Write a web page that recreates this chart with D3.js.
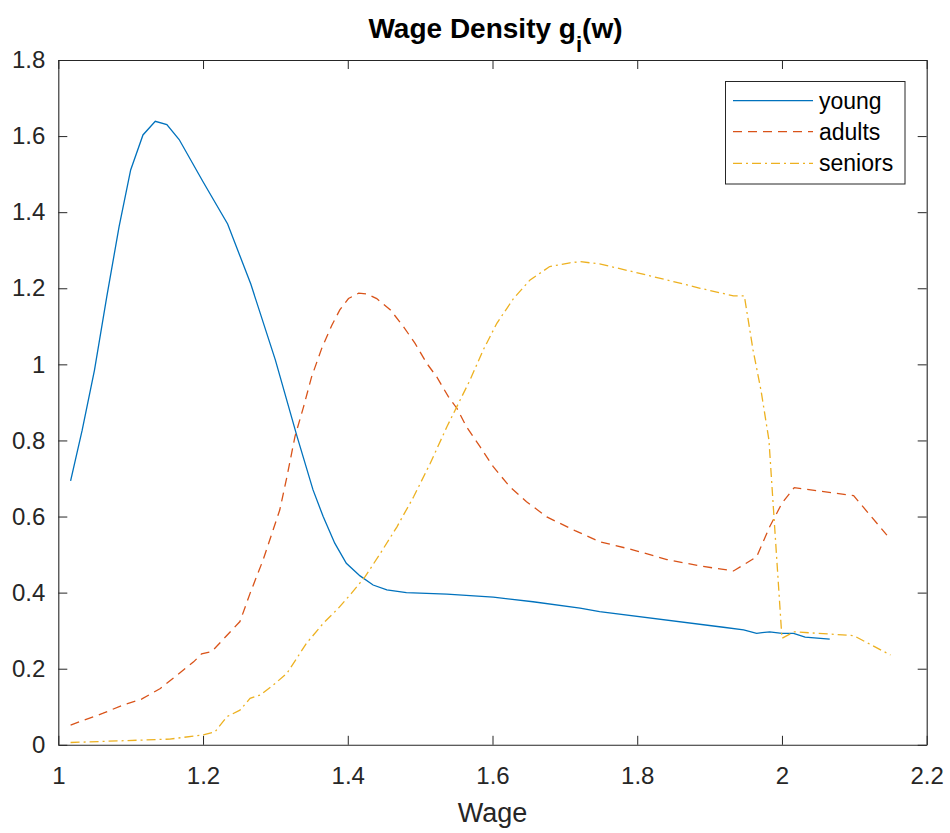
<!DOCTYPE html>
<html><head><meta charset="utf-8">
<script src="https://d3js.org/d3.v7.min.js"></script>
<style>body{margin:0;background:#fff}text{font-family:"Liberation Sans",Arial,Helvetica,sans-serif}</style>
</head><body><svg id="c" width="950" height="833"></svg>
<script>
// ---- data ----
const seriesNames = ["young", "adults", "seniors"];
const youngX = [1.017,1.033,1.050,1.067,1.084,1.100,1.117,1.134,1.150,1.167,1.200,1.234,1.266,1.300,1.330,1.352,1.366,1.382,1.398,1.417,1.435,1.454,1.481,1.537,1.601,1.656,1.721,1.748,1.919,1.947,1.965,1.983,2.000,2.016,2.032,2.066];
const youngY = [0.694,0.827,0.985,1.178,1.362,1.511,1.603,1.639,1.630,1.591,1.480,1.369,1.211,1.011,0.810,0.670,0.600,0.530,0.477,0.444,0.420,0.407,0.400,0.396,0.388,0.376,0.359,0.350,0.309,0.302,0.293,0.297,0.293,0.293,0.283,0.278];
const adultsX = [1.017,1.062,1.090,1.115,1.141,1.164,1.187,1.198,1.212,1.251,1.265,1.283,1.306,1.316,1.327,1.339,1.350,1.364,1.378,1.389,1.401,1.415,1.426,1.440,1.459,1.477,1.493,1.509,1.523,1.539,1.551,1.564,1.583,1.601,1.624,1.647,1.675,1.714,1.748,1.795,1.841,1.887,1.933,1.965,1.983,2.000,2.017,2.099,2.145];
const adultsY = [0.052,0.083,0.105,0.120,0.148,0.183,0.218,0.239,0.245,0.324,0.398,0.486,0.617,0.705,0.810,0.889,0.967,1.042,1.103,1.143,1.173,1.187,1.185,1.173,1.143,1.099,1.055,1.003,0.967,0.915,0.884,0.836,0.783,0.731,0.678,0.639,0.599,0.563,0.534,0.512,0.487,0.470,0.457,0.494,0.573,0.635,0.676,0.655,0.551];
const seniorsX = [1.017,1.094,1.154,1.200,1.2165,1.233,1.251,1.265,1.279,1.297,1.316,1.343,1.366,1.387,1.405,1.424,1.445,1.468,1.491,1.514,1.537,1.569,1.587,1.606,1.629,1.652,1.679,1.707,1.721,1.748,1.795,1.841,1.887,1.933,1.948,1.960,1.971,1.982,2.000,2.017,2.099,2.150];
const seniorsY = [0.006,0.011,0.015,0.026,0.034,0.074,0.091,0.122,0.131,0.157,0.188,0.267,0.319,0.359,0.398,0.442,0.503,0.573,0.652,0.740,0.836,0.959,1.037,1.108,1.173,1.222,1.257,1.267,1.270,1.264,1.243,1.222,1.200,1.180,1.180,1.038,0.932,0.801,0.280,0.297,0.287,0.236];
const xTicks = [1,1.2,1.4,1.6,1.8,2,2.2];
const xTickLabels = ["1","1.2","1.4","1.6","1.8","2","2.2"];
const yTicks = [0,0.2,0.4,0.6,0.8,1,1.2,1.4,1.6,1.8];
const yTickLabels = ["0","0.2","0.4","0.6","0.8","1","1.2","1.4","1.6","1.8"];

// ---- layout ----
const L = 58.3, R = 926.7, T = 60, B = 744.8;
const axisColor = "#262626";
const colors = ["#0072BD", "#D95319", "#EDB120"];
const dashes = [null, "9,6", "9,4,2,4"];

const svg = d3.select("#c");
const x = d3.scaleLinear().domain([1, 2.2]).range([L, R]);
const y = d3.scaleLinear().domain([0, 1.8]).range([B, T]);

// axes
const fmtX = d => xTickLabels[xTicks.indexOf(d)];
const fmtY = d => yTickLabels[yTicks.indexOf(d)];
const gx = svg.append("g").attr("transform", `translate(0,${B})`)
  .call(d3.axisBottom(x).tickValues(xTicks).tickFormat(fmtX).tickSizeInner(-9).tickSizeOuter(0).tickPadding(22));
const gy = svg.append("g").attr("transform", `translate(${L},0)`)
  .call(d3.axisLeft(y).tickValues(yTicks).tickFormat(fmtY).tickSizeInner(-9).tickSizeOuter(0).tickPadding(13));
const gxt = svg.append("g").attr("transform", `translate(0,${T})`)
  .call(d3.axisTop(x).tickValues(xTicks).tickFormat("").tickSizeInner(-9).tickSizeOuter(0));
const gyr = svg.append("g").attr("transform", `translate(${R},0)`)
  .call(d3.axisRight(y).tickValues(yTicks).tickFormat("").tickSizeInner(-9).tickSizeOuter(0));
[gx, gy, gxt, gyr].forEach(g => {
  g.select(".domain").attr("stroke", axisColor).attr("stroke-width", 1.1);
  g.selectAll(".tick line").attr("stroke", axisColor).attr("stroke-width", 1);
  g.selectAll(".tick text").attr("fill", axisColor).style("font-size", "24px")
    .style("font-family", '"Liberation Sans",Arial,Helvetica,sans-serif');
});

// lines
const series = [
  youngX.map((v, i) => [v, youngY[i]]),
  adultsX.map((v, i) => [v, adultsY[i]]),
  seniorsX.map((v, i) => [v, seniorsY[i]])
];
const line = d3.line().x(d => x(d[0])).y(d => y(d[1]));
series.forEach((s, i) => {
  svg.append("path").datum(s).attr("d", line).attr("fill", "none")
    .attr("stroke", colors[i]).attr("stroke-width", 1.3)
    .attr("stroke-dasharray", dashes[i]);
});

// title
const title = svg.append("text").attr("x", (L + R) / 2 + 3).attr("y", 38.3)
  .attr("text-anchor", "middle").attr("fill", "#000")
  .style("font-size", "28px").style("font-weight", "bold");
title.append("tspan").text("Wage Density g");
title.append("tspan").attr("dy", 14).style("font-size", "22px").text("i");
title.append("tspan").attr("dy", -14).text("(w)");

// x label
svg.append("text").attr("x", (L + R) / 2).attr("y", 821.7).attr("text-anchor", "middle")
  .attr("fill", axisColor).style("font-size", "27px").text("Wage");

// legend
const lg = svg.append("g");
lg.append("rect").attr("x", 725.5).attr("y", 81.5).attr("width", 179.5).attr("height", 102.5)
  .attr("fill", "#fff").attr("stroke", axisColor).attr("stroke-width", 1);
const rowY = [100.7, 131.7, 163.3];
seriesNames.forEach((n, i) => {
  lg.append("line").attr("x1", 733).attr("x2", 813).attr("y1", rowY[i]).attr("y2", rowY[i])
    .attr("stroke", colors[i]).attr("stroke-width", 1.3).attr("stroke-dasharray", dashes[i]);
  lg.append("text").attr("x", 819).attr("y", rowY[i]).attr("dy", "0.35em")
    .attr("fill", "#000").style("font-size", "23px").text(n);
});
</script></body></html>
